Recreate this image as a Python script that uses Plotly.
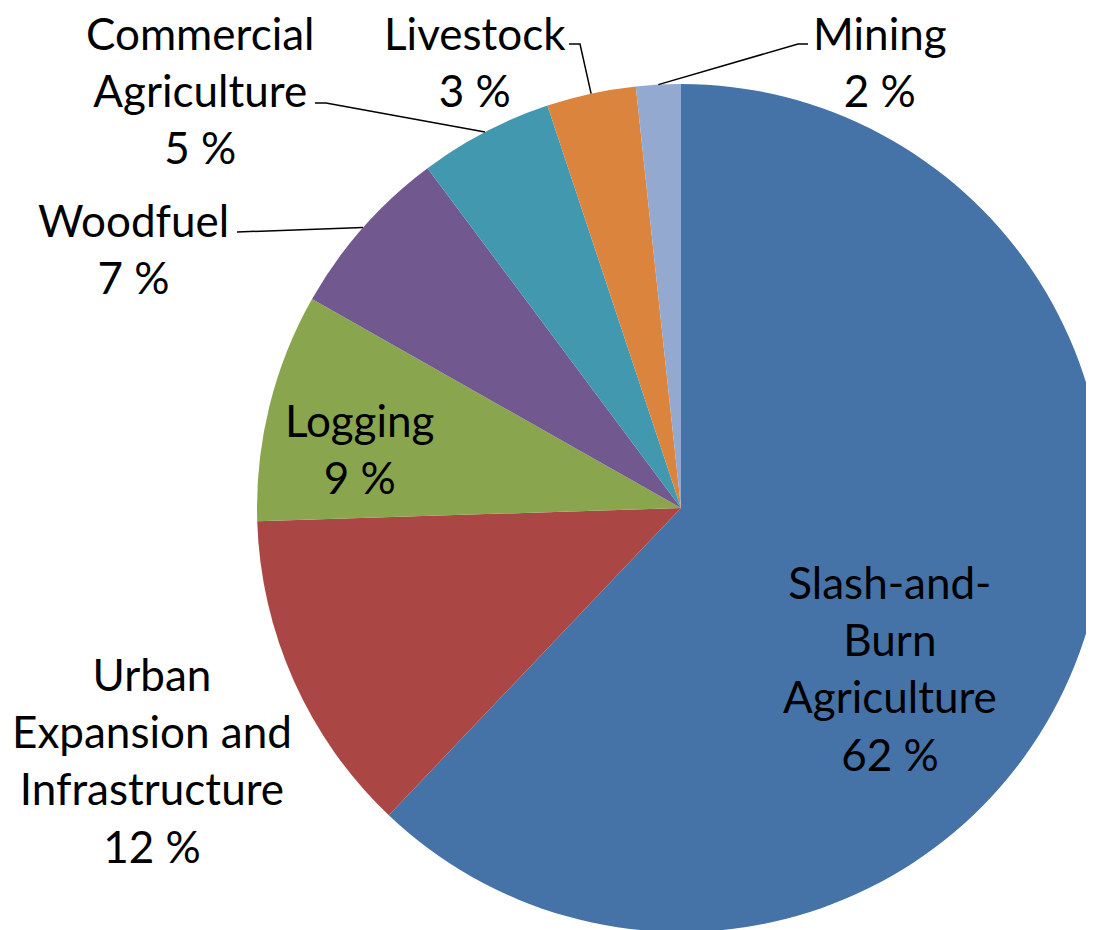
import math
import plotly.graph_objects as go

# ---- data ----
categories = ["Slash-and-Burn Agriculture", "Urban Expansion and Infrastructure",
              "Logging", "Woodfuel", "Commercial Agriculture", "Livestock", "Mining"]
values = [62.1, 12.4, 8.7, 6.6, 5.1, 3.4, 1.7]
label_text = ["Slash-and-<br>Burn<br>Agriculture", "Urban<br>Expansion and<br>Infrastructure",
              "Logging", "Woodfuel", "Commercial<br>Agriculture", "Livestock", "Mining"]
colors = ["#4572A7", "#AA4643", "#89A54E", "#71588F", "#4198AF", "#DB843D", "#93A9CF"]

# ---- layout (screen pixels; page has an 8px body margin) ----
OFF = 8
W, H = 1100, 930
CX, CY, R = 681 - OFF, 508 - OFF, 424
label_pos = [(890, 668), (152, 760), (360, 448), (133, 248), (200, 90), (475, 61), (880, 61)]
leader_start = [None, None, None, [(237, 232)], [(315, 103), (326, 103)],
                [(569, 44), (580, 44)], [(808, 44), (798, 44)]]

def px(x):
    return x / W

def py(y):
    return 1 - y / H

fig = go.Figure(go.Pie(
    labels=categories, values=values, sort=False, direction="clockwise", rotation=0,
    marker=dict(colors=colors, line=dict(color="white", width=0)),
    textinfo="none", hoverinfo="label+percent", showlegend=False,
    domain=dict(x=[(CX - R) / W, (CX + R) / W], y=[(H - CY - R) / H, (H - CY + R) / H]),
))

total = sum(values)
cum = 0.0
annotations = []
shapes = []
for name, v, txt, (lx, ly), lead in zip(categories, values, label_text, label_pos, leader_start):
    mid = (cum + v / 2) / total * 2 * math.pi
    cum += v
    annotations.append(dict(
        x=px(lx - OFF), y=py(ly - OFF), xref="paper", yref="paper", showarrow=False,
        text=f"{txt}<br>{round(v / total * 100)} %", align="center",
        xanchor="center", yanchor="middle",
        font=dict(family="Lato", size=44, color="black"),
    ))
    if lead:
        ex = CX + R * math.sin(mid)
        ey = CY - R * math.cos(mid)
        pts = [(a - OFF, b - OFF) for a, b in lead] + [(ex, ey)]
        path = "M " + " L ".join(f"{px(a):.5f},{py(b):.5f}" for a, b in pts)
        shapes.append(dict(type="path", xref="paper", yref="paper", path=path,
                           line=dict(color="black", width=1.5)))

fig.update_layout(
    width=W, height=H, margin=dict(l=0, r=0, t=0, b=0),
    paper_bgcolor="white", plot_bgcolor="white",
    annotations=annotations, shapes=shapes,
)
fig.write_html("out.html")
